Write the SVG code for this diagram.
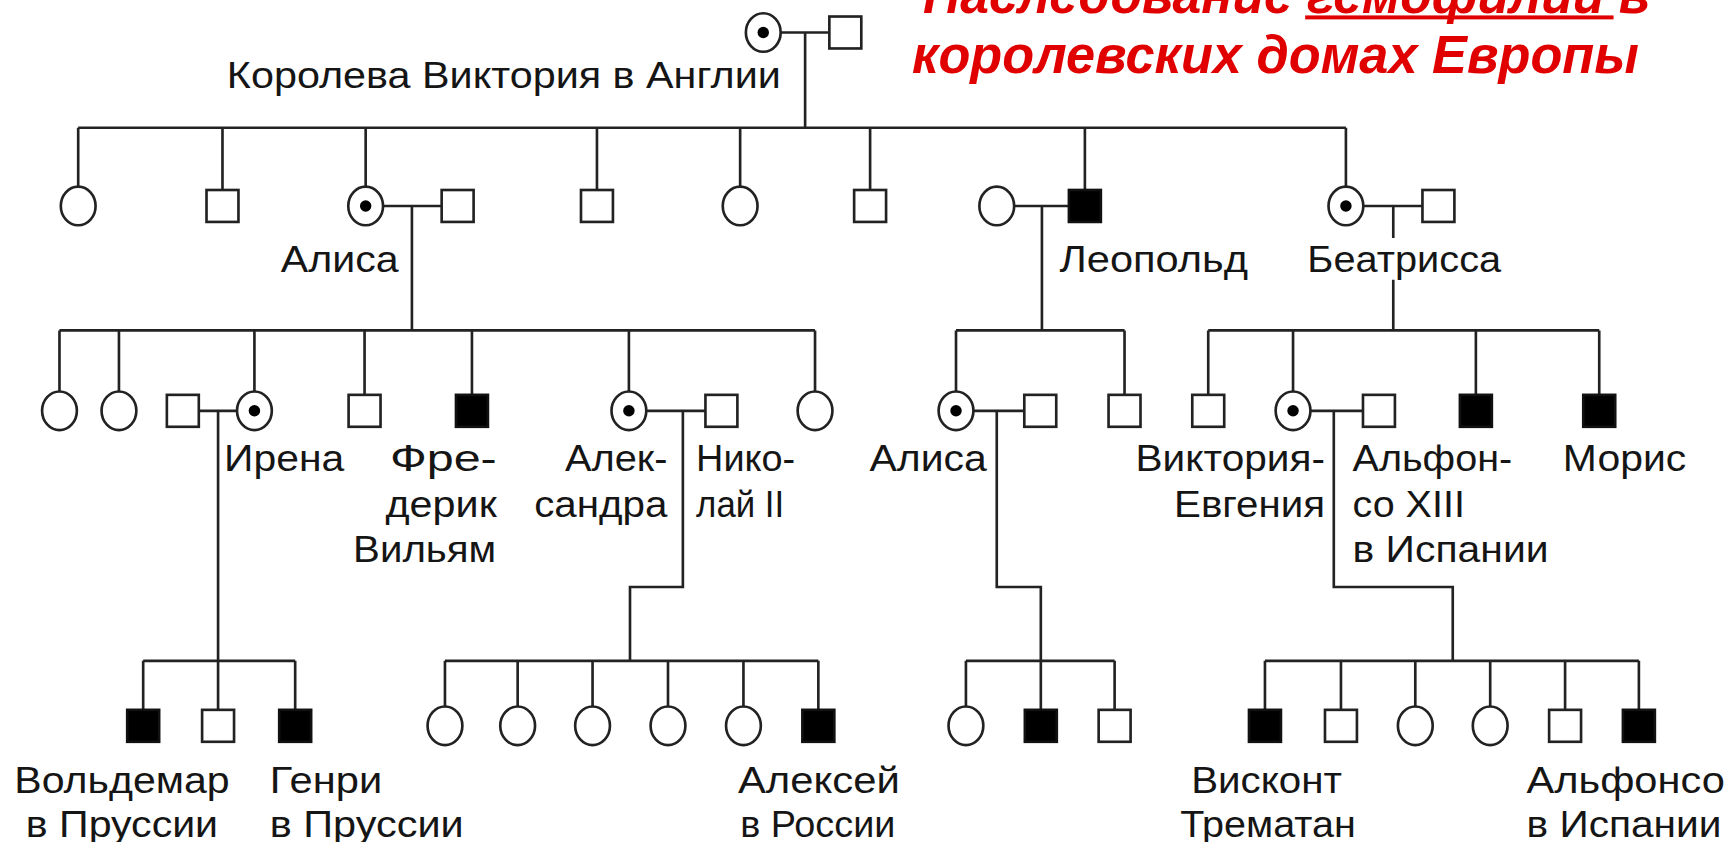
<svg xmlns="http://www.w3.org/2000/svg" xmlns:xlink="http://www.w3.org/1999/xlink" width="1727" height="842" viewBox="0 0 1727 842">
<style>
.ln{stroke:#222;stroke-width:2.4;fill:none}
.m{fill:#fff;stroke:#222;stroke-width:2.4}
.a{fill:#000;stroke:#111;stroke-width:2.4}
.c{fill:#fff;stroke:#222;stroke-width:2.4}
.t{font-family:"Liberation Sans",Arial,sans-serif;font-size:34px;fill:#151515}
.ttl{font-family:"Liberation Sans",Arial,sans-serif;font-weight:bold;font-style:italic;font-size:49px;fill:#e00000}
</style>
<defs>
<rect id="sq" x="-14.5" y="-14.5" width="29" height="29"/>
<ellipse id="ci" rx="15.8" ry="17.5"/>
<g id="car"><ellipse rx="15.8" ry="17.5" fill="#fff" stroke="#222" stroke-width="2.4"/><circle r="5.2" fill="#000"/></g>
</defs>
<rect width="1727" height="842" fill="#fff"/>
<g transform="scale(1.1014)">
<g id="title">
<text class="ttl" x="838" y="12" textLength="660" lengthAdjust="spacingAndGlyphs">Наследование гемофилии в</text>
<rect x="1185" y="14" width="280" height="3.6" fill="#e00000"/>
<text class="ttl" x="828" y="66" textLength="660" lengthAdjust="spacingAndGlyphs">королевских домах Европы</text>
</g>
<g id="connectors">
<path class="ln" d="M708.8 29.5H752.5M731 29.5V116M71 116H1222M71 116V169.5M202 116V172.5M332 116V169.5M542 116V172.5M672 116V169.5M790 116V172.5M985 116V172.5M1222 116V169.5"/>
<path class="ln" d="M347.8 187H401M374 187V300M54 300H740M54 300V355.5M108 300V355.5M231 300V355.5M331 300V358.5M428.5 300V358.5M571 300V355.5M740 300V355.5"/>
<path class="ln" d="M920.8 187H970.5M946 187V300M868 300H1021M868 300V355.5M1021 300V358.5"/>
<path class="ln" d="M1237.8 187H1291.5M1265 187V216M1265 254V300M1097 300H1452M1097 300V358.5M1174 300V355.5M1340 300V358.5M1452 300V358.5"/>
<path class="ln" d="M180.5 373H215.2M198 373V600M130 600H268M130 600V644.5M198 600V644.5M268 600V644.5"/>
<path class="ln" d="M586.8 373H640.5M620 373V533H572V600M404 600H743M404 600V641.5M470 600V641.5M538 600V641.5M606.5 600V641.5M675 600V641.5M743 600V644.5"/>
<path class="ln" d="M883.8 373H930M905 373V533H945V600M877 600H1012M877 600V641.5M945 600V644.5M1012 600V644.5"/>
<path class="ln" d="M1189.8 373H1237.5M1211 373V533H1319V600M1148.5 600H1488M1148.5 600V644.5M1217.5 600V644.5M1285 600V641.5M1353 600V641.5M1421 600V644.5M1488 600V644.5"/>
</g>
<g id="victoria"><use xlink:href="#car" x="693" y="29.5"/><text class="t" x="206" y="80" textLength="503" lengthAdjust="spacingAndGlyphs">Королева Виктория в Англии</text></g>
<g id="victoria-husband"><use xlink:href="#sq" class="m" x="767.5" y="29.5"/></g>
<g id="g2-1"><use xlink:href="#ci" class="c" x="71" y="187"/></g>
<g id="g2-2"><use xlink:href="#sq" class="m" x="202" y="187"/></g>
<g id="alice"><use xlink:href="#car" x="332" y="187"/><text class="t" x="255" y="247" textLength="107" lengthAdjust="spacingAndGlyphs">Алиса</text></g>
<g id="alice-husband"><use xlink:href="#sq" class="m" x="415.5" y="187"/></g>
<g id="g2-4"><use xlink:href="#sq" class="m" x="542" y="187"/></g>
<g id="g2-5"><use xlink:href="#ci" class="c" x="672" y="187"/></g>
<g id="g2-6"><use xlink:href="#sq" class="m" x="790" y="187"/></g>
<g id="leopold-wife"><use xlink:href="#ci" class="c" x="905" y="187"/></g>
<g id="leopold"><use xlink:href="#sq" class="a" x="985" y="187"/><text class="t" x="962" y="247" textLength="171" lengthAdjust="spacingAndGlyphs">Леопольд</text></g>
<g id="beatrice"><use xlink:href="#car" x="1222" y="187"/><text class="t" x="1187" y="247" textLength="176" lengthAdjust="spacingAndGlyphs">Беатрисса</text></g>
<g id="beatrice-husband"><use xlink:href="#sq" class="m" x="1306" y="187"/></g>
<g id="g3-1"><use xlink:href="#ci" class="c" x="54" y="373"/></g>
<g id="g3-2"><use xlink:href="#ci" class="c" x="108" y="373"/></g>
<g id="irene-husband"><use xlink:href="#sq" class="m" x="166" y="373"/></g>
<g id="irene"><use xlink:href="#car" x="231" y="373"/><text class="t" x="203.5" y="428" textLength="109" lengthAdjust="spacingAndGlyphs">Ирена</text></g>
<g id="g3-4"><use xlink:href="#sq" class="m" x="331" y="373"/></g>
<g id="frederick"><use xlink:href="#sq" class="a" x="428.5" y="373"/><text class="t" x="354" y="428" textLength="97" lengthAdjust="spacingAndGlyphs">Фре-</text><text class="t" x="350" y="469" textLength="101" lengthAdjust="spacingAndGlyphs">дерик</text><text class="t" x="320.6" y="510" textLength="130" lengthAdjust="spacingAndGlyphs">Вильям</text></g>
<g id="alexandra"><use xlink:href="#car" x="571" y="373"/><text class="t" x="513" y="428" textLength="93" lengthAdjust="spacingAndGlyphs">Алек-</text><text class="t" x="485" y="469" textLength="121" lengthAdjust="spacingAndGlyphs">сандра</text></g>
<g id="nicholas"><use xlink:href="#sq" class="m" x="655" y="373"/><text class="t" x="632" y="428" textLength="90" lengthAdjust="spacingAndGlyphs">Нико-</text><text class="t" x="632" y="469" textLength="80" lengthAdjust="spacingAndGlyphs">лай II</text></g>
<g id="g3-8"><use xlink:href="#ci" class="c" x="740" y="373"/></g>
<g id="alice-l"><use xlink:href="#car" x="868" y="373"/><text class="t" x="789.5" y="428" textLength="106.5" lengthAdjust="spacingAndGlyphs">Алиса</text></g>
<g id="alice-l-husband"><use xlink:href="#sq" class="m" x="944.5" y="373"/></g>
<g id="g3-l2"><use xlink:href="#sq" class="m" x="1021" y="373"/></g>
<g id="g3-b1"><use xlink:href="#sq" class="m" x="1097" y="373"/></g>
<g id="victoria-eugenia"><use xlink:href="#car" x="1174" y="373"/><text class="t" x="1031" y="428" textLength="172" lengthAdjust="spacingAndGlyphs">Виктория-</text><text class="t" x="1066" y="469" textLength="137" lengthAdjust="spacingAndGlyphs">Евгения</text></g>
<g id="alfonso13"><use xlink:href="#sq" class="m" x="1252" y="373"/><text class="t" x="1228" y="428" textLength="145" lengthAdjust="spacingAndGlyphs">Альфон-</text><text class="t" x="1228" y="469" textLength="102" lengthAdjust="spacingAndGlyphs">со XIII</text><text class="t" x="1228" y="510" textLength="178" lengthAdjust="spacingAndGlyphs">в Испании</text></g>
<g id="g3-b3"><use xlink:href="#sq" class="a" x="1340" y="373"/></g>
<g id="maurice"><use xlink:href="#sq" class="a" x="1452" y="373"/><text class="t" x="1419" y="428" textLength="112" lengthAdjust="spacingAndGlyphs">Морис</text></g>
<g id="waldemar"><use xlink:href="#sq" class="a" x="130" y="659"/><text class="t" x="13" y="720" textLength="195.5" lengthAdjust="spacingAndGlyphs">Вольдемар</text><text class="t" x="23.5" y="760" textLength="174.5" lengthAdjust="spacingAndGlyphs">в Пруссии</text></g>
<g id="g4-i2"><use xlink:href="#sq" class="m" x="198" y="659"/></g>
<g id="henry"><use xlink:href="#sq" class="a" x="268" y="659"/><text class="t" x="245" y="720" textLength="102" lengthAdjust="spacingAndGlyphs">Генри</text><text class="t" x="245" y="760" textLength="176" lengthAdjust="spacingAndGlyphs">в Пруссии</text></g>
<g id="g4-a1"><use xlink:href="#ci" class="c" x="404" y="659"/></g>
<g id="g4-a2"><use xlink:href="#ci" class="c" x="470" y="659"/></g>
<g id="g4-a3"><use xlink:href="#ci" class="c" x="538" y="659"/></g>
<g id="g4-a4"><use xlink:href="#ci" class="c" x="606.5" y="659"/></g>
<g id="g4-a5"><use xlink:href="#ci" class="c" x="675" y="659"/></g>
<g id="alexei"><use xlink:href="#sq" class="a" x="743" y="659"/><text class="t" x="670" y="720" textLength="147" lengthAdjust="spacingAndGlyphs">Алексей</text><text class="t" x="672" y="760" textLength="141" lengthAdjust="spacingAndGlyphs">в России</text></g>
<g id="g4-l1"><use xlink:href="#ci" class="c" x="877" y="659"/></g>
<g id="g4-l2"><use xlink:href="#sq" class="a" x="945" y="659"/></g>
<g id="g4-l3"><use xlink:href="#sq" class="m" x="1012" y="659"/></g>
<g id="viscount"><use xlink:href="#sq" class="a" x="1148.5" y="659"/><text class="t" x="1081.5" y="720" textLength="137" lengthAdjust="spacingAndGlyphs">Висконт</text><text class="t" x="1071.5" y="760" textLength="159.5" lengthAdjust="spacingAndGlyphs">Трематан</text></g>
<g id="g4-v2"><use xlink:href="#sq" class="m" x="1217.5" y="659"/></g>
<g id="g4-v3"><use xlink:href="#ci" class="c" x="1285" y="659"/></g>
<g id="g4-v4"><use xlink:href="#ci" class="c" x="1353" y="659"/></g>
<g id="g4-v5"><use xlink:href="#sq" class="m" x="1421" y="659"/></g>
<g id="alfonso"><use xlink:href="#sq" class="a" x="1488" y="659"/><text class="t" x="1386" y="720" textLength="180" lengthAdjust="spacingAndGlyphs">Альфонсо</text><text class="t" x="1386" y="760" textLength="177" lengthAdjust="spacingAndGlyphs">в Испании</text></g>
</g>
</svg>
